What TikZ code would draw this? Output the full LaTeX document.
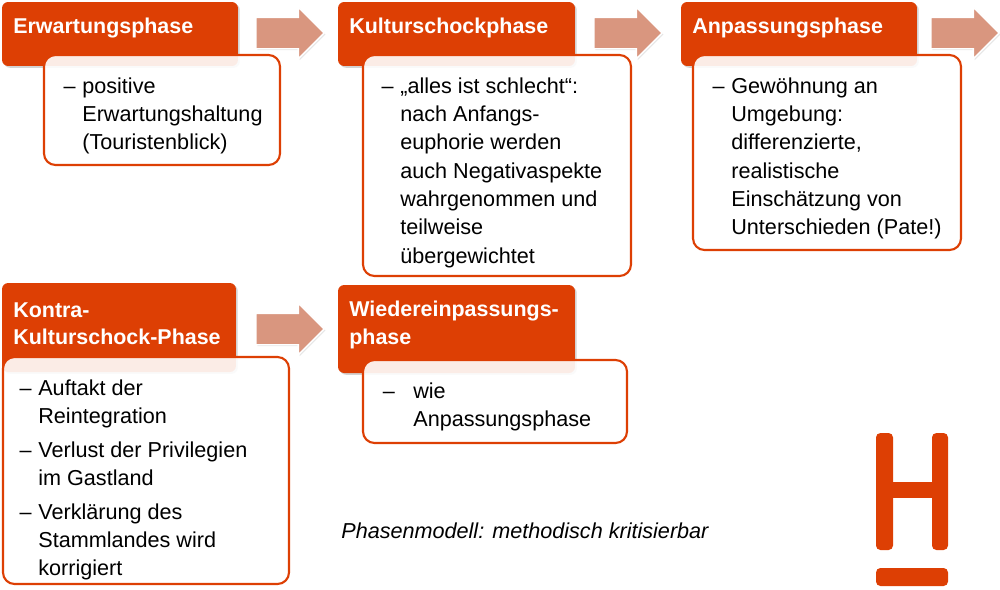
\documentclass[tikz,border=0pt]{standalone}
\usepackage{fontspec}
\setmainfont{Liberation Sans}
\usepackage{tikz}
\usetikzlibrary{shapes.arrows,shadows}
\definecolor{hsorange}{HTML}{DD3F04}
\definecolor{arrowrose}{HTML}{D9967F}
\newcommand{\dashitem}{\llap{--\hspace{3.8pt}}}

\begin{document}
\begin{tikzpicture}[x=0.02cm, y=-0.02cm,
    phasehead/.style={rectangle, rounded corners=3.5pt, fill=hsorange, inner sep=0,
        drop shadow={shadow xshift=1pt, shadow yshift=-1pt, opacity=0.35}},
    headtext/.style={anchor=west, align=left, inner sep=0, text=white, font=\fontsize{12.2}{15.6}\selectfont\bfseries},
    phasebody/.style={rectangle, rounded corners=6.5pt, draw=hsorange, line width=1.2pt, fill=white, fill opacity=0.9, text opacity=1, inner sep=0},
    bodytext/.style={anchor=north west, align=left, inner sep=0, text=black, font=\fontsize{12.3}{16.15}\selectfont},
    phasearrow/.style={single arrow, anchor=tip, draw=white, line width=0.8pt, fill=arrowrose, inner sep=0,
        text height=0.6cm, text depth=0pt, minimum width=1.0cm, minimum height=1.36cm,
        single arrow head extend=0.2cm, single arrow head indent=0cm,
        drop shadow={shadow xshift=0.8pt, shadow yshift=-0.8pt, opacity=0.2}},
    logobar/.style={rectangle, rounded corners=2.5pt, fill=hsorange, inner sep=0}
]
\useasboundingbox (0,0) rectangle (1000,589);

% Phase headers
\node[phasehead, minimum width=4.72cm, minimum height=1.28cm] (erwhead) at (120,34) {};
\node[phasehead, minimum width=4.74cm, minimum height=1.28cm] (kulhead) at (456.5,34) {};
\node[phasehead, minimum width=4.72cm, minimum height=1.28cm] (anphead) at (799,34) {};
\node[phasehead, minimum width=4.68cm, minimum height=1.78cm] (konhead) at (119,327.5) {};
\node[phasehead, minimum width=4.74cm, minimum height=1.76cm] (wiehead) at (456.5,329) {};

\node[headtext] (erwtext) at (13,28) {Erwartungsphase};
\node[headtext] (kultext) at (349,28) {Kulturschockphase};
\node[headtext] (anptext) at (692,28) {Anpassungsphase};
\node[headtext] (kontext) at (13,324) {Kontra-\\Kulturschock-Phase};
\node[headtext] (wietext) at (349,325) {Wiedereinpassungs-\\phase};

% Phase bodies
\node[phasebody, minimum width=4.72cm, minimum height=2.2cm] (erwbody) at (162,110) {};
\node[phasebody, minimum width=5.36cm, minimum height=4.42cm] (kulbody) at (497,165.5) {};
\node[phasebody, minimum width=5.36cm, minimum height=3.9cm] (anpbody) at (827,152.5) {};
\node[phasebody, minimum width=5.72cm, minimum height=4.54cm] (konbody) at (146,470.5) {};
\node[phasebody, minimum width=5.28cm, minimum height=1.66cm] (wiebody) at (495,401.5) {};

\node[bodytext] (erwlist) at (82,77) {\dashitem positive\\Erwartungshaltung\\(Touristenblick)};
\node[bodytext] (kullist) at (400,77) {\dashitem „alles ist schlecht“:\\nach Anfangs-\\euphorie werden\\auch Negativaspekte\\wahrgenommen und\\teilweise\\übergewichtet};
\node[bodytext] (anplist) at (731,77) {\dashitem Gewöhnung an\\Umgebung:\\differenzierte,\\realistische\\Einschätzung von\\Unterschieden (Pate!)};
\node[bodytext] (konlist) at (38,379) {\dashitem Auftakt der\\Reintegration\\[3pt]\dashitem Verlust der Privilegien\\im Gastland\\[3pt]\dashitem Verklärung des\\Stammlandes wird\\korrigiert};
\node[bodytext] (wielist) at (413,382) {\llap{--\hspace{10.5pt}}wie\\Anpassungsphase};

% Arrows between the phases
\node[phasearrow] (arrowa) at (325,33) {};
\node[phasearrow] (arrowb) at (663,33) {};
\node[phasearrow] (arrowc) at (1000,33) {};
\node[phasearrow] (arrowd) at (325,329) {};

\node[anchor=west, inner sep=0, font=\fontsize{12.3}{16}\selectfont\itshape] (note) at (341,531) {Phasenmodell: methodisch kritisierbar};

% Logo
\node[logobar, minimum width=0.34cm, minimum height=2.34cm] (logoleft) at (884.5,491.5) {};
\node[logobar, minimum width=0.32cm, minimum height=2.34cm] (logoright) at (940,491.5) {};
\node[rectangle, fill=hsorange, inner sep=0, minimum width=0.84cm, minimum height=0.31cm] (logocross) at (912,490) {};
\node[logobar, minimum width=1.44cm, minimum height=0.36cm] (logobase) at (912,577) {};
\end{tikzpicture}
\end{document}
